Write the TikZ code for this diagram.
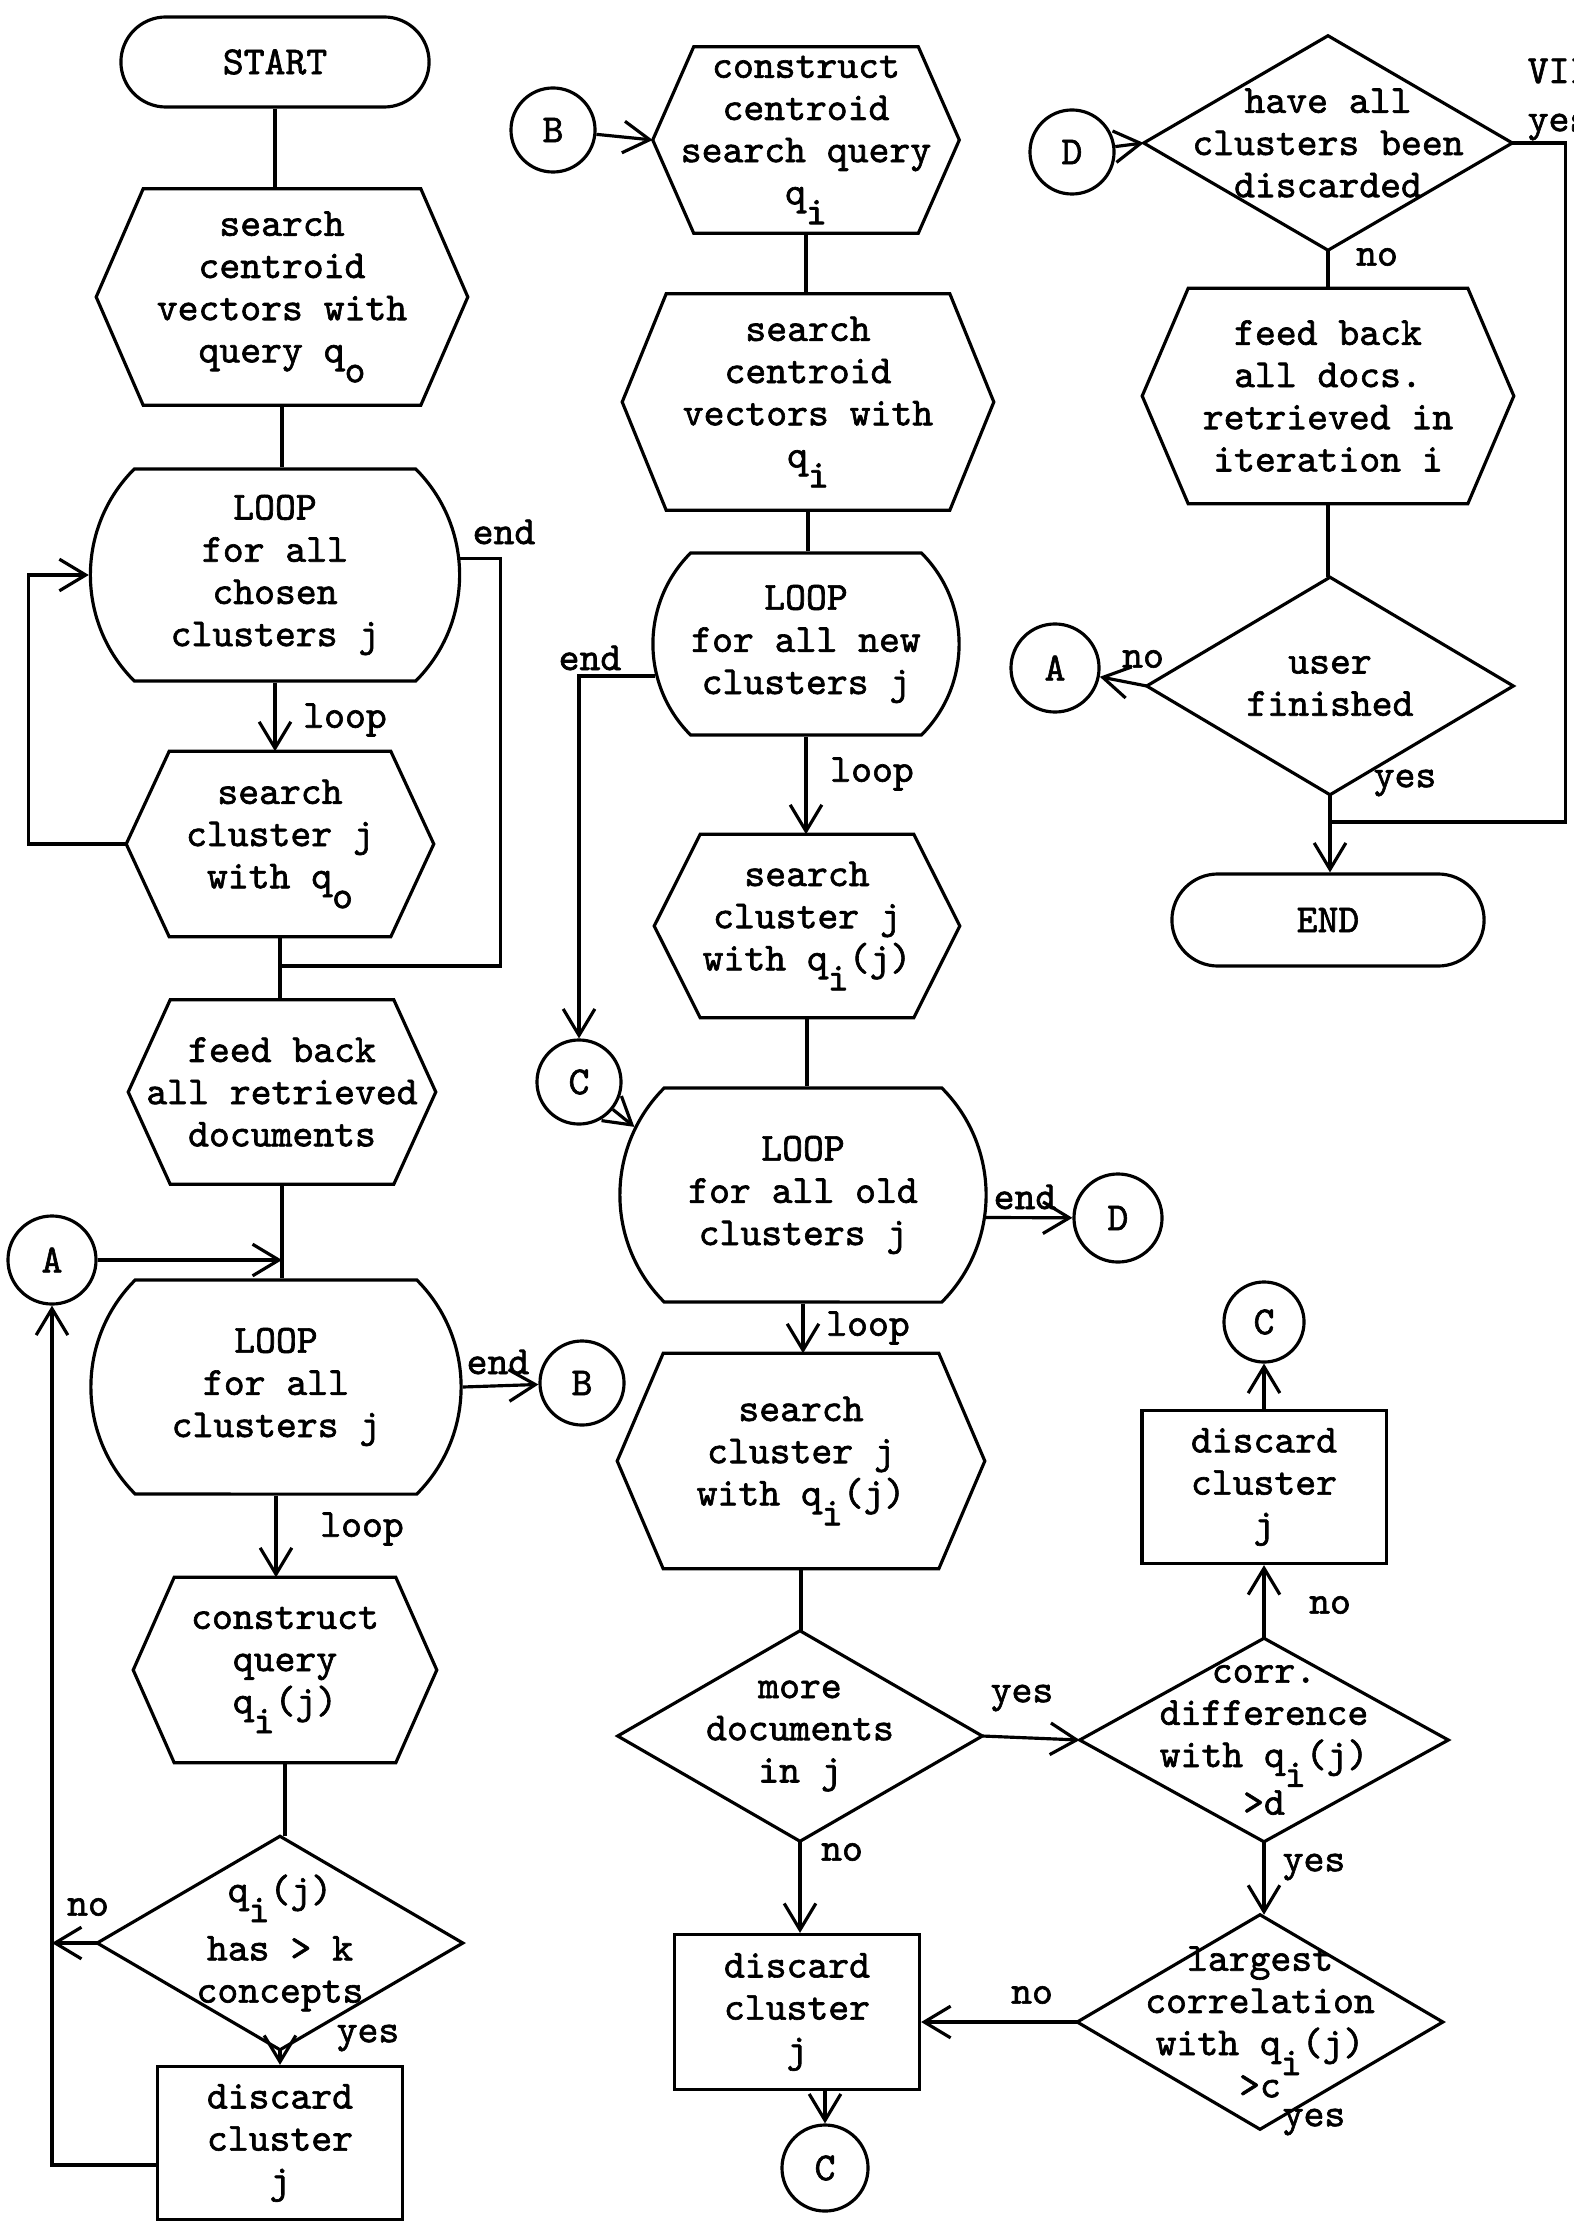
\documentclass[tikz,border=0pt]{standalone}
\usepackage{fontspec}
\newfontfamily\chartff{lmmono10-regular.otf}[FakeBold=1.6]
\usepackage{tikz}
\usetikzlibrary{arrows.meta}
\usetikzlibrary{shapes.misc}
\usetikzlibrary{calc}
\newcommand{\chartfont}{\chartff\fontsize{11.3pt}{12pt}\selectfont}
\newcommand{\sbx}[1]{\raisebox{-0.5em}{#1}}
\tikzset{
  ln/.style={line width=0.9pt},
  arr/.style={ln, -{Straight Barb[length=7.5pt,width=9pt]}},
  txt/.style={inner sep=0pt, align=center},
  loopbox/.style={txt, draw, ln, rounded rectangle, rounded rectangle arc length=90},
  termbox/.style={txt, draw, ln, rounded rectangle},
  procbox/.style={txt, draw, ln, rectangle},
  conn/.style={draw, ln, circle, inner sep=0pt},
}
\begin{document}
\begin{tikzpicture}[x=0.01cm, y=-0.01cm, font=\chartfont]
\useasboundingbox (0,0) rectangle (1574,2228);

\node[termbox, minimum width=3.08cm, minimum height=0.9cm] (start) at (275,62) {START};
\node[txt, minimum width=3.7cm, minimum height=2.15cm] (srch0) at (282,297) {search\\centroid\\vectors with\\query q\sbx{o}};
\node[loopbox, minimum width=3.69cm, minimum height=2.12cm] (loop0) at (275,575) {LOOP\\for all\\chosen\\clusters j};
\node[txt, minimum width=3.06cm, minimum height=1.84cm] (srchq0) at (280,844) {search\\cluster j\\with q\sbx{o}};
\node[txt, minimum width=3.06cm, minimum height=1.83cm] (fb0) at (282,1092) {feed back\\all retrieved\\documents};
\node[conn, minimum size=0.88cm] (A1) at (52,1260) {A};
\node[loopbox, minimum width=3.7cm, minimum height=2.14cm] (loop1) at (276,1387) {LOOP\\for all\\clusters j};
\node[conn, minimum size=0.84cm] (B1) at (582,1383) {B};
\node[txt, minimum width=3.02cm, minimum height=1.84cm] (cons) at (285,1670) {construct\\query\\q\sbx{i}(j)};
\node[txt, minimum width=3.64cm, minimum height=2.12cm] (dec0) at (280,1943) {q\sbx{i}(j)\\[3pt]has > k\\concepts};
\node[procbox, minimum width=2.45cm, minimum height=1.53cm] (disc0) at (280,2143) {discard\\cluster\\j};

\node[conn, minimum size=0.84cm] (B0) at (553,130) {B};
\node[txt, minimum width=3.05cm, minimum height=1.85cm] (cq) at (806,140) {construct\\centroid\\search query\\q\sbx{i}};
\node[txt, minimum width=3.7cm, minimum height=2.15cm] (scv) at (808,402) {search\\centroid\\vectors with\\q\sbx{i}};
\node[loopbox, minimum width=3.06cm, minimum height=1.82cm] (loop2) at (806,644) {LOOP\\for all new\\clusters j};
\node[txt, minimum width=3.04cm, minimum height=1.82cm] (sc1) at (807,926) {search\\cluster j\\with q\sbx{i}(j)};
\node[conn, minimum size=0.84cm] (C1) at (579,1082) {C};
\node[loopbox, minimum width=3.66cm, minimum height=2.14cm] (loop3) at (803,1195) {LOOP\\for all old\\clusters j};
\node[conn, minimum size=0.88cm] (D1) at (1118,1218) {D};
\node[txt, minimum width=3.66cm, minimum height=2.14cm] (sc2) at (801,1461) {search\\cluster j\\with q\sbx{i}(j)};
\node[txt, minimum width=3.63cm, minimum height=2.09cm] (dec1) at (800,1736) {more\\documents\\in j};
\node[procbox, minimum width=2.45cm, minimum height=1.55cm] (disc2) at (797,2012) {discard\\cluster\\j};
\node[conn, minimum size=0.86cm] (C3) at (825,2168) {C};
\node[txt, minimum width=3.67cm, minimum height=2.02cm] (dec2) at (1264,1740) {corr.\\difference\\with q\sbx{i}(j)\\>d};
\node[procbox, minimum width=2.44cm, minimum height=1.53cm] (disc1) at (1264,1487) {discard\\cluster\\j};
\node[conn, minimum size=0.8cm] (C2) at (1264,1322) {C};
\node[txt, minimum width=3.64cm, minimum height=2.13cm] (dec3) at (1260,2022) {largest\\correlation\\with q\sbx{i}(j)\\>c};

\node[conn, minimum size=0.84cm] (D0) at (1072,152) {D};
\node[txt, minimum width=3.67cm, minimum height=2.13cm] (dec4) at (1328,143) {have all\\clusters been\\discarded};
\node[txt, minimum width=3.7cm, minimum height=2.14cm] (fb2) at (1328,396) {feed back\\all docs.\\retrieved in\\iteration i};
\node[txt, minimum width=3.65cm, minimum height=2.16cm] (dec5) at (1330,686) {user\\finished};
\node[conn, minimum size=0.88cm] (A2) at (1055,668) {A};
\node[termbox, minimum width=3.12cm, minimum height=0.92cm] (stop) at (1328,920) {END};

\foreach \nd/\sk in {srch0/47,srchq0/43,fb0/42,cons/41,cq/41,scv/44,sc1/46,sc2/46,fb2/46}
  \draw[ln] (\nd.west) -- ($(\nd.north west)+(\sk,0)$) -- ($(\nd.north east)-(\sk,0)$) -- (\nd.east) -- ($(\nd.south east)-(\sk,0)$) -- ($(\nd.south west)+(\sk,0)$) -- cycle;
\foreach \nd in {dec0,dec1,dec2,dec3,dec4,dec5}
  \draw[ln] (\nd.west) -- (\nd.north) -- (\nd.east) -- (\nd.south) -- cycle;

\node (lbEnd0) at (504,532) {end}; \node (lbLoop0) at (345,720) {loop};
\node (lbEnd1) at (498,1362) {end}; \node (lbLoop1) at (362,1529) {loop};
\node (lbNo0) at (88,1907) {no}; \node (lbYes0) at (368,2038) {yes};
\node (lbEnd2) at (590,658) {end}; \node (lbLoop2) at (872,774) {loop};
\node (lbEnd3) at (1025,1197) {end}; \node (lbLoop3) at (868,1328) {loop};
\node (lbYes1) at (1022,1698) {yes}; \node (lbNo1) at (842,1852) {no};
\node (lbNo2) at (1330,1605) {no}; \node (lbYes2) at (1314,1867) {yes};
\node (lbNo3) at (1032,1995) {no}; \node (lbYes3) at (1314,2122) {yes};
\node[anchor=west, inner sep=0pt] (lbVII) at (1527,71) {VII};
\node[anchor=west, inner sep=0pt] (lbYes4) at (1527,127) {yes};
\node (lbNo4) at (1377,257) {no}; \node (lbNo5) at (1143,659) {no};
\node (lbYes5) at (1405,783) {yes};

\draw[ln] (start.south) -- (start.south |- srch0.north);
\draw[ln] (srch0.south) -- (srch0.south |- loop0.north);
\draw[arr] (loop0.south) -- (loop0.south |- srchq0.north);
\draw[arr] (srchq0.west) -- ++(-98,0) |- (loop0.west);
\coordinate (j0) at (280,966);
\draw[ln] (loop0.5) -- ++(40,0) |- (j0);
\draw[ln] (srchq0.south) -- (srchq0.south |- fb0.north);
\draw[ln] (fb0.south) -- (fb0.south |- loop1.north);
\draw[arr] (A1) -- (A1 -| fb0.south);
\draw[arr] (loop1.east) -- (B1);
\draw[arr] (loop1.south) -- (loop1.south |- cons.north);
\draw[ln] (cons.south) -- (cons.south |- dec0.north);
\draw[arr] (dec0.west) -- (dec0.west -| A1.south);
\draw[arr] (dec0.south) -- (dec0.south |- disc0.north);
\draw[arr] ([yshift=-0.22cm]disc0.west) -| (A1.south);

\draw[arr] (B0) -- (cq.west);
\draw[ln] (cq.south) -- (cq.south |- scv.north);
\draw[ln] (scv.south) -- (scv.south |- loop2.north);
\draw[arr] (loop2.192) -| (C1.north);
\draw[arr] (loop2.south) -- (loop2.south |- sc1.north);
\draw[ln] (sc1.south) -- (sc1.south |- loop3.north);
\draw[arr] (C1) -- (loop3.158);
\draw[arr] (loop3.-7) -- (D1);
\draw[arr] (loop3.south) -- (loop3.south |- sc2.north);
\draw[ln] (sc2.south) -- (sc2.south |- dec1.north);
\draw[arr] (dec1.east) -- (dec2.west);
\draw[arr] (dec1.south) -- (dec1.south |- disc2.north);
\draw[arr] (dec2.north) -- (dec2.north |- disc1.south);
\draw[arr] (disc1.north) -- (C2);
\draw[arr] (dec2.south) -- (dec2.south |- dec3.north);
\draw[arr] (dec3.west) -- (dec3.west -| disc2.east);
\draw[arr] (C3 |- disc2.south) -- (C3);

\draw[arr] (D0) -- (dec4.west);
\draw[ln] (dec4.south) -- (dec4.south |- fb2.north);
\coordinate (j1) at (1330,822);
\draw[ln] (dec4.east) -- ++(53,0) |- (j1);
\draw[ln] (fb2.south) -- (fb2.south |- dec5.north);
\draw[arr] (dec5.west) -- (A2);
\draw[arr] (dec5.south) -- (dec5.south |- stop.north);
\end{tikzpicture}
\end{document}
